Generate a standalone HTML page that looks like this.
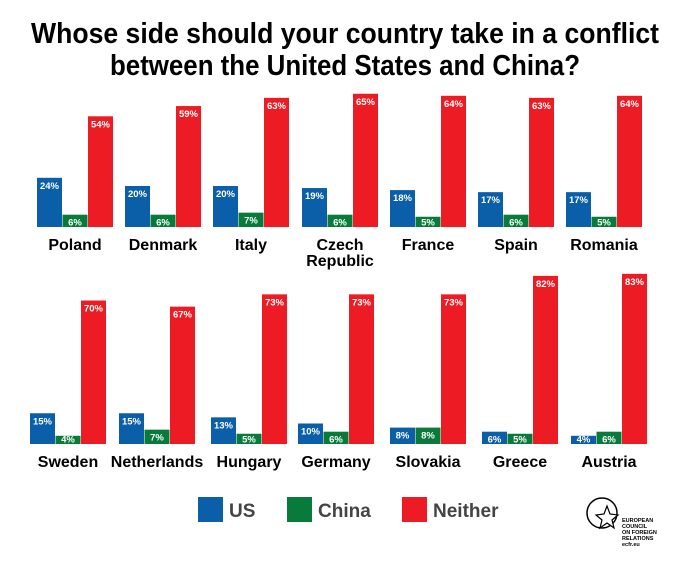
<!DOCTYPE html>
<html><head><meta charset="utf-8"><style>
html,body{margin:0;padding:0;background:#fff}
svg{display:block}
text{font-family:"Liberation Sans",sans-serif;font-weight:bold}
</style></head><body>
<svg id="s" width="691" height="562" viewBox="0 0 691 562" xmlns="http://www.w3.org/2000/svg">
<text x="345" y="43" text-anchor="middle" font-size="29" textLength="628" lengthAdjust="spacingAndGlyphs" fill="#000">Whose side should your country take in a conflict</text>
<text x="345" y="75" text-anchor="middle" font-size="29" textLength="470" lengthAdjust="spacingAndGlyphs" fill="#000">between the United States and China?</text>
<rect x="198" y="497" width="25" height="25" fill="#0b5ea8"/>
<text x="229" y="517" font-size="19" fill="#444">US</text>
<rect x="287" y="497" width="25" height="25" fill="#087a3a"/>
<text x="318" y="517" font-size="19" fill="#444">China</text>
<rect x="402" y="497" width="25" height="25" fill="#ed1c24"/>
<text x="433" y="517" font-size="19" fill="#444">Neither</text>
<circle cx="602" cy="513" r="15" fill="none" stroke="#000" stroke-width="1.5"/>
<polygon points="607,506 610,514 618,515 612,520 614,528 607,523 600,528 602,520 596,515 604,514" fill="#fff" stroke="#000" stroke-width="1.2"/>
<text x="622" y="522" font-size="5.5" fill="#000">EUROPEAN</text>
<text x="622" y="528" font-size="5.5" fill="#000">COUNCIL</text>
<text x="622" y="534" font-size="5.5" fill="#000">ON FOREIGN</text>
<text x="622" y="540" font-size="5.5" fill="#000">RELATIONS</text>
<text x="622" y="546" font-size="5.5" font-weight="normal" fill="#000">ecfr.eu</text>
</svg>
<script>
var s=document.getElementById('s'),NS='http://www.w3.org/2000/svg';
function el(t,a,txt){var e=document.createElementNS(NS,t);for(var k in a)e.setAttribute(k,a[k]);if(txt)e.textContent=txt;s.appendChild(e);return e;}
var k=2.05,cols=['#0b5ea8','#087a3a','#ed1c24'];
var rows=[
 {b:227,ly:250,d:[["Poland",37,24,6,54],["Denmark",125,20,6,59],["Italy",213,20,7,63],["Czech|Republic",302,19,6,65],["France",390,18,5,64],["Spain",478,17,6,63],["Romania",566,17,5,64]]},
 {b:444,ly:467,d:[["Sweden",30,15,4,70],["Netherlands",119,15,7,67],["Hungary",211,13,5,73],["Germany",298,10,6,73],["Slovakia",390,8,8,73],["Greece",482,6,5,82],["Austria",571,4,6,83]]}];
rows.forEach(function(r){r.d.forEach(function(g){
 for(var i=0;i<3;i++){var v=g[2+i],h=v*k,x=g[1]+i*25.5;
  el('rect',{x:x,y:r.b-h,width:25,height:h,fill:cols[i]});
  var ty=Math.min(r.b-h+11,r.b-1.5);
  el('text',{x:x+12.5,y:ty,'text-anchor':'middle','font-size':9.5,fill:'#fff'},v+'%');}
 var cx=g[1]+38,ls=g[0].split('|');
 ls.forEach(function(l,j){el('text',{x:cx,y:r.ly+j*16,'text-anchor':'middle','font-size':16,fill:'#000'},l);});
});});
</script>
</body></html>
